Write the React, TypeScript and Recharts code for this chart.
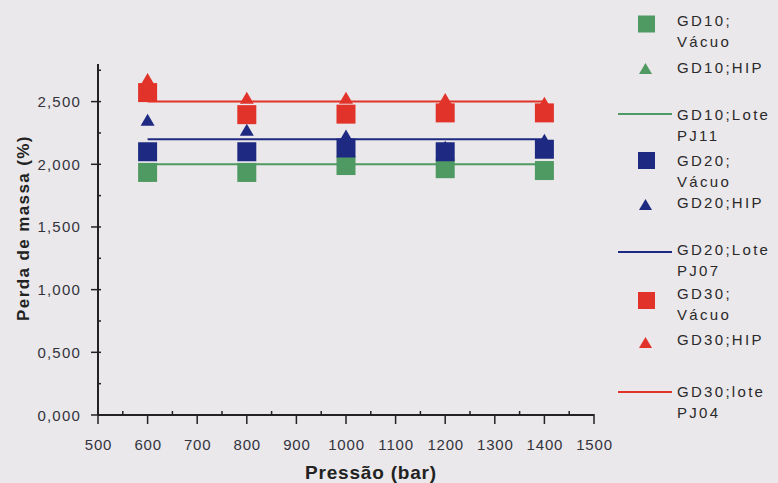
import { ScatterChart, Scatter, XAxis, YAxis } from "recharts";

const pressures = [600, 800, 1000, 1200, 1400];

const gd10Vacuo = [1.935, 1.935, 1.99, 1.965, 1.95];
const gd10Hip = [1.95, 1.945, 1.98, 1.97, 1.96];
const gd20Vacuo = [2.1, 2.1, 2.13, 2.1, 2.12];
const gd20Hip = [2.356, 2.276, 2.23, 2.14, 2.196];
const gd30Vacuo = [2.572, 2.396, 2.4, 2.41, 2.41];
const gd30Hip = [2.68, 2.53, 2.53, 2.52, 2.49];

// trend lines (lote)
const lineRange = [600, 1400];
const gd10Lote = 2.0;
const gd20Lote = 2.2;
const gd30Lote = 2.5;

const xTicks = [500, 550, 600, 650, 700, 750, 800, 850, 900, 950, 1000, 1050, 1100, 1150, 1200, 1250, 1300, 1350, 1400, 1450, 1500];
const yTicks = [0, 0.25, 0.5, 0.75, 1, 1.25, 1.5, 1.75, 2, 2.25, 2.5, 2.75];

const GREEN = "#4f9a62";
const NAVY = "#1e2a82";
const RED = "#e2332b";
const FONT = "'Liberation Sans', Arial, sans-serif";
const TEXT = "#33333d";

const pts = (ys: number[]) => pressures.map((x, i) => ({ x, y: ys[i] }));
const flat = (y: number) => lineRange.map((x) => ({ x, y }));

const Square = (color: string) => (p: any) => (
  <rect x={p.cx - 9.5} y={p.cy - 9.5} width={19} height={19} fill={color} />
);
const Tri = (color: string) => (p: any) => (
  <polygon points={`${p.cx},${p.cy - 6} ${p.cx - 7},${p.cy + 6} ${p.cx + 7},${p.cy + 6}`} fill={color} />
);
const NoDot = () => <g />;

// tickSize/tickMargin are 0, so p.x / p.y sit on the axis line
const XTick = (p: any) => {
  const v = p.payload.value;
  const major = v % 100 === 0;
  return (
    <g>
      <line x1={p.x} x2={p.x} y1={major ? p.y - 1 : p.y - 4} y2={major ? p.y + 9 : p.y} stroke="#222" strokeWidth={1.5} />
      {major && (
        <text x={p.x + 0.5} y={p.y + 35} textAnchor="middle" fontSize={15} letterSpacing={0.8} fill={TEXT} fontFamily={FONT}>
          {v}
        </text>
      )}
    </g>
  );
};

const YTick = (p: any) => {
  const v = p.payload.value;
  const major = Math.abs((v * 2) % 1) < 1e-6;
  return (
    <g>
      <line x1={major ? p.x - 7 : p.x} x2={p.x + 3} y1={p.y} y2={p.y} stroke="#222" strokeWidth={1.5} />
      {major && (
        <text x={p.x - 17} y={p.y + 5.5} textAnchor="end" fontSize={15} letterSpacing={1.2} fill={TEXT} fontFamily={FONT}>
          {v.toFixed(3).replace(".", ",")}
        </text>
      )}
    </g>
  );
};

const legendItems = [
  { kind: "square", color: GREEN, lines: ["GD10;", "Vácuo"], my: 23.5, ty: 26 },
  { kind: "tri", color: GREEN, lines: ["GD10;HIP"], my: 69, ty: 73 },
  { kind: "line", color: GREEN, lines: ["GD10;Lote", "PJ11"], my: 114, ty: 120 },
  { kind: "square", color: NAVY, lines: ["GD20;", "Vácuo"], my: 160, ty: 166 },
  { kind: "tri", color: NAVY, lines: ["GD20;HIP"], my: 205, ty: 208 },
  { kind: "line", color: NAVY, lines: ["GD20;Lote", "PJ07"], my: 252, ty: 255 },
  { kind: "square", color: RED, lines: ["GD30;", "Vácuo"], my: 300, ty: 299 },
  { kind: "tri", color: RED, lines: ["GD30;HIP"], my: 343, ty: 345 },
  { kind: "line", color: RED, lines: ["GD30;lote", "PJ04"], my: 392, ty: 397 },
];

const Legend = () => (
  <svg width={778} height={483} style={{ position: "absolute", left: 0, top: 0, pointerEvents: "none" }}>
    {legendItems.map((it, i) => {
      const cy = it.my;
      return (
        <g key={i}>
          {it.kind === "square" && <rect x={638} y={cy - 8} width={17} height={17} fill={it.color} />}
          {it.kind === "tri" && <polygon points={`645.5,${cy - 6} 639,${cy + 5} 652,${cy + 5}`} fill={it.color} />}
          {it.kind === "line" && <line x1={618} x2={672} y1={cy} y2={cy} stroke={it.color} strokeWidth={2} />}
          {it.lines.map((t, j) => (
            <text key={j} x={677} y={it.ty + j * 21} fontSize={15} letterSpacing={2.3} fill="#2a2a2a" fontFamily={FONT}>
              {t}
            </text>
          ))}
        </g>
      );
    })}
  </svg>
);

export default function App() {
  return (
    <div style={{ position: "absolute", left: 0, top: 0, width: 778, height: 483, background: "#eae8ea", overflow: "hidden" }}>
      <ScatterChart width={778} height={483} margin={{ top: 64, right: 184, bottom: 0, left: 0 }}>
        <XAxis
          type="number"
          dataKey="x"
          domain={[500, 1500]}
          ticks={xTicks}
          interval={0}
          tick={<XTick />}
          tickLine={false}
          tickSize={0}
          tickMargin={0}
          axisLine={{ stroke: "#222", strokeWidth: 2 }}
          height={68}
          allowDataOverflow
        />
        <YAxis
          type="number"
          dataKey="y"
          domain={[0, 2.8]}
          ticks={yTicks}
          interval={0}
          tick={<YTick />}
          tickLine={false}
          tickSize={0}
          tickMargin={0}
          axisLine={{ stroke: "#222", strokeWidth: 2 }}
          width={98}
          allowDataOverflow
        />
        <Scatter data={flat(gd10Lote)} line={{ stroke: GREEN, strokeWidth: 2 }} shape={NoDot} isAnimationActive={false} />
        <Scatter data={flat(gd20Lote)} line={{ stroke: NAVY, strokeWidth: 2 }} shape={NoDot} isAnimationActive={false} />
        <Scatter data={flat(gd30Lote)} line={{ stroke: RED, strokeWidth: 2 }} shape={NoDot} isAnimationActive={false} />
        <Scatter data={pts(gd10Hip)} shape={Tri(GREEN)} isAnimationActive={false} />
        <Scatter data={pts(gd10Vacuo)} shape={Square(GREEN)} isAnimationActive={false} />
        <Scatter data={pts(gd20Vacuo)} shape={Square(NAVY)} isAnimationActive={false} />
        <Scatter data={pts(gd20Hip)} shape={Tri(NAVY)} isAnimationActive={false} />
        <Scatter data={pts(gd30Vacuo)} shape={Square(RED)} isAnimationActive={false} />
        <Scatter data={pts(gd30Hip)} shape={Tri(RED)} isAnimationActive={false} />
      </ScatterChart>
      <svg width={778} height={483} style={{ position: "absolute", left: 0, top: 0, pointerEvents: "none" }}>
        <text
          transform="translate(29,228) rotate(-90)"
          textAnchor="middle"
          fontSize={17}
          letterSpacing={1.4}
          fontWeight="bold"
          fill="#222"
          fontFamily={FONT}
        >
          Perda de massa (%)
        </text>
        <text x={371} y={479} textAnchor="middle" fontSize={19} letterSpacing={0.8} fontWeight="bold" fill="#222" fontFamily={FONT}>
          Pressão (bar)
        </text>
      </svg>
      <Legend />
    </div>
  );
}
